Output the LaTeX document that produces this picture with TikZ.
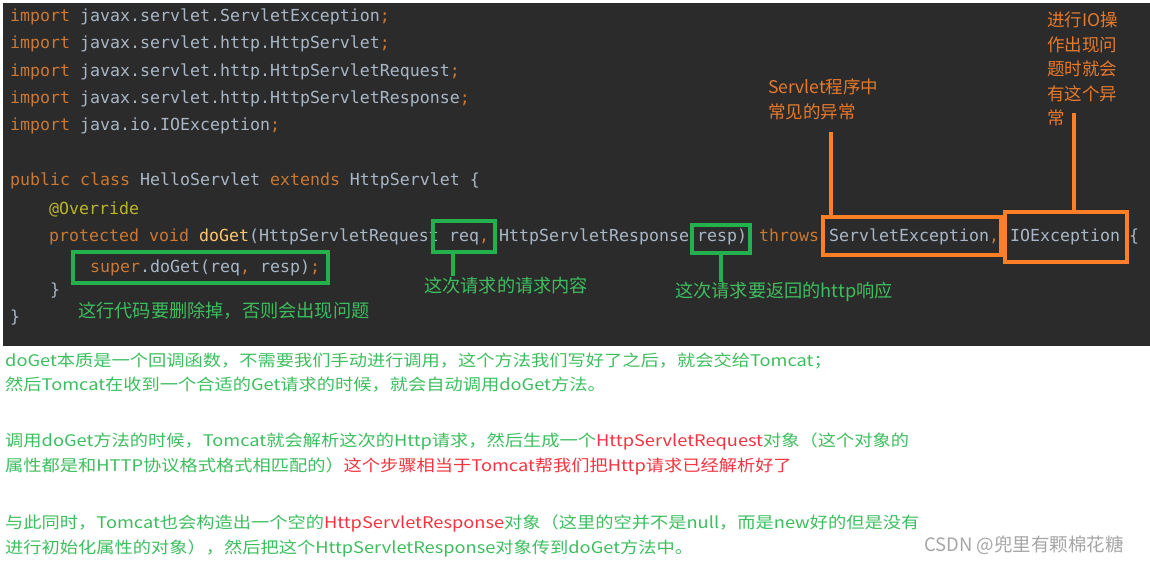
\documentclass[tikz,border=0pt]{standalone}
\usepackage{fontspec}
\setmonofont{DejaVu Sans Mono}
\newfontfamily\cjk{Noto Sans CJK SC}
\definecolor{bgd}{HTML}{2B2B2B}
\definecolor{kw}{HTML}{CC7832}
\definecolor{tx}{HTML}{A9B7C6}
\definecolor{ann}{HTML}{BBB529}
\definecolor{mth}{HTML}{FFC66D}
\definecolor{gbox}{HTML}{22B14C}
\definecolor{obox}{HTML}{FF7F27}
\definecolor{gtxt}{HTML}{3DBE5E}
\definecolor{rtxt}{HTML}{F5333F}
\definecolor{otxt}{HTML}{E8792B}
\tikzset{
 code/.style={anchor=west,inner sep=0pt,text=tx,font=\ttfamily\fontsize{16.6}{18}\selectfont},
 codeb/.style={code,anchor=base west},
 gb/.style={draw=gbox,line width=3.5pt,inner sep=0pt},
 ob/.style={draw=obox,line width=3.5pt,inner sep=0pt},
 gl/.style={draw=gbox,line width=3.5pt},
 ol/.style={draw=obox,line width=3.5pt},
 gnote/.style={anchor=west,inner sep=0pt,text=gtxt,font=\cjk\fontsize{18.2}{20}\selectfont},
 onote/.style={anchor=north west,inner sep=0pt,align=left,text=otxt,font=\cjk\fontsize{17.5}{24.5}\selectfont},
 body/.style={anchor=west,inner sep=0pt,text=gtxt,xscale=1.14,font=\cjk\fontsize{16}{17}\selectfont},
}
\begin{document}
\begin{tikzpicture}[x=1pt,y=-1pt]
\useasboundingbox (0,0) rectangle (1150,563);
\fill[white] (0,0) rectangle (1150,563);
\fill[bgd] (3,3) rectangle (1150,346);
\node[code] (l1) at (10,17) {\textcolor{kw}{import} javax.servlet.ServletException\textcolor{kw}{;}};
\node[code] (l2) at (10,44) {\textcolor{kw}{import} javax.servlet.http.HttpServlet\textcolor{kw}{;}};
\node[code] (l3) at (10,72) {\textcolor{kw}{import} javax.servlet.http.HttpServletRequest\textcolor{kw}{;}};
\node[code] (l4) at (10,99) {\textcolor{kw}{import} javax.servlet.http.HttpServletResponse\textcolor{kw}{;}};
\node[code] (l5) at (10,126) {\textcolor{kw}{import} java.io.IOException\textcolor{kw}{;}};
\node[code] (l6) at (10,181) {\textcolor{kw}{public class} HelloServlet \textcolor{kw}{extends} HttpServlet \{};
\node[code,text=ann] (l7) at (49,209) {@Override};
\node[codeb] (l8a) at (49,241) {\textcolor{kw}{protected void} \textcolor{mth}{doGet}(HttpServletRequest};
\node[codeb] (l8b) at (449,241) {req\textcolor{kw}{,}};
\node[codeb] (l8c) at (499,241) {HttpServletResponse};
\node[codeb] (l8d) at (697,241) {resp)};
\node[codeb,text=kw] (l8e) at (759,241) {throws};
\node[codeb] (l8f) at (829,241) {ServletException\textcolor{kw}{,}};
\node[codeb] (l8g) at (1010,241) {IOException};
\node[codeb] (l8h) at (1129,241) {\{};
\node[code] (l9) at (90,268) {\textcolor{kw}{super}.doGet(req\textcolor{kw}{,} resp)\textcolor{kw}{;}};
\node[code] (l10) at (50,291) {\}};
\node[code] (l11) at (10,318) {\}};
% boxes
\node[gb,minimum width=62pt,minimum height=31pt] (breq) at (464,236.5) {};
\node[gb,minimum width=255pt,minimum height=31pt] (bsup) at (200.5,267.5) {};
\node[gb,minimum width=58pt,minimum height=28pt] (bresp) at (721,239) {};
\node[ob,minimum width=178pt,minimum height=38pt] (bse) at (912,236) {};
\node[ob,minimum width=122pt,minimum height=50pt] (bio) at (1066,237) {};
% notes
\node[gnote] (nreq) at (424,286) {这次请求的请求内容};
\node[gnote] (nresp) at (675,292) {这次请求要返回的http响应};
\node[gnote] (nsup) at (78,311) {这行代码要删除掉，否则会出现问题};
\node[onote] (nse) at (768,79) {Servlet程序中\\常见的异常};
\node[onote] (nio) at (1047,12) {进行IO操\\作出现问\\题时就会\\有这个异\\常};
\coordinate (creq) at (453,276);
\coordinate (cresp) at (721,282);
\coordinate (cse) at (831,132);
\coordinate (cio) at (1074,113);
\draw[gl] (breq.south -| creq) -- (creq);
\draw[gl] (bresp.south) -- (cresp);
\draw[ol] (bse.north -| cse) -- (cse);
\draw[ol] (bio.north -| cio) -- (cio);
% body text
\node[body] (t1) at (5,361) {doGet本质是一个回调函数，不需要我们手动进行调用，这个方法我们写好了之后，就会交给Tomcat；};
\node[body] (t2) at (5,385) {然后Tomcat在收到一个合适的Get请求的时候，就会自动调用doGet方法。};
\node[body] (t3) at (5,441) {调用doGet方法的时候，Tomcat就会解析这次的Http请求，然后生成一个\textcolor{rtxt}{HttpServletRequest}对象（这个对象的};
\node[body] (t4) at (5,466) {属性都是和HTTP协议格式格式相匹配的）\textcolor{rtxt}{这个步骤相当于Tomcat帮我们把Http请求已经解析好了}};
\node[body] (t5) at (5,523) {与此同时，Tomcat也会构造出一个空的\textcolor{rtxt}{HttpServletResponse}对象（这里的空并不是null，而是new好的但是没有};
\node[body] (t6) at (5,548) {进行初始化属性的对象），然后把这个HttpServletResponse对象传到doGet方法中。};
\node[anchor=west,inner sep=0pt,text=gray!70,font=\cjk\fontsize{18.5}{20}\selectfont] (wm) at (924,545) {CSDN @兜里有颗棉花糖};
\end{tikzpicture}
\end{document}
